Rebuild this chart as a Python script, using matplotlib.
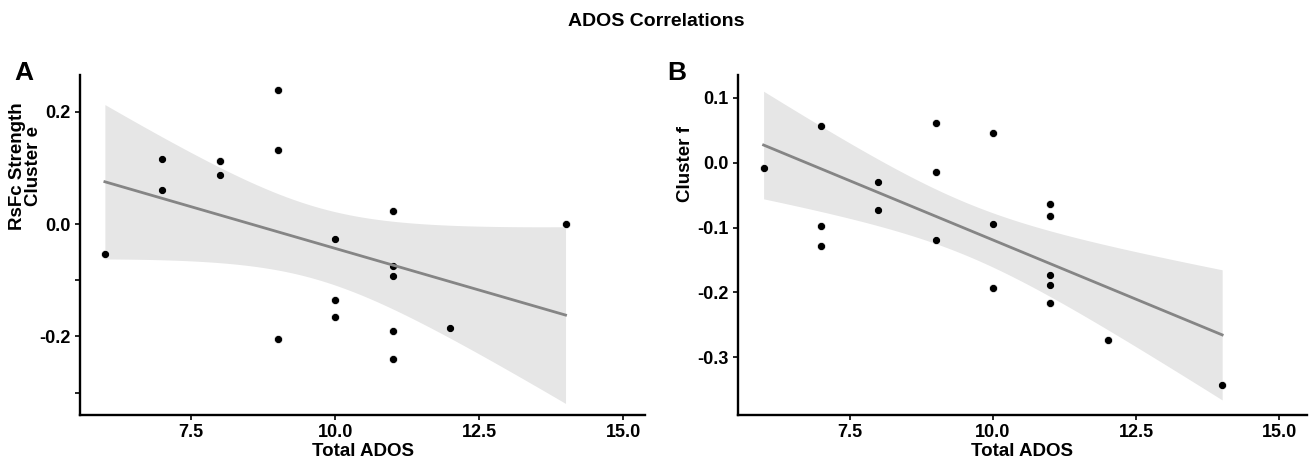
import math
import numpy as np
import matplotlib
matplotlib.use("Agg")
import matplotlib.pyplot as plt

plt.rcParams['font.family'] = ['Liberation Sans', 'DejaVu Sans']
plt.rcParams['axes.unicode_minus'] = False

# ---- data ----
ados_a = [6, 7, 7, 8, 8, 9, 9, 9, 10, 10, 10, 11, 11, 11, 11, 11, 12, 14]
rsfc_e = [-0.054, 0.115, 0.060, 0.112, 0.087, 0.239, 0.131, -0.205,
          -0.027, -0.135, -0.165, 0.024, -0.075, -0.093, -0.190, -0.240,
          -0.185, 0.000]

ados_b = [6, 7, 7, 7, 8, 8, 9, 9, 9, 10, 10, 10, 11, 11, 11, 11, 11, 12, 14]
rsfc_f = [-0.008, 0.057, -0.098, -0.129, -0.030, -0.073, 0.061, -0.015,
          -0.119, 0.046, -0.095, -0.193, -0.064, -0.082, -0.173, -0.188,
          -0.216, -0.273, -0.342]

xticks = [7.5, 10.0, 12.5, 15.0]
xtick_labels = ['7.5', '10.0', '12.5', '15.0']
yticks_a = [-0.3, -0.2, -0.1, 0.0, 0.2]
ytick_labels_a = ['', '-0.2', '', '0.0', '0.2']
yticks_b = [-0.3, -0.2, -0.1, 0.0, 0.1]
ytick_labels_b = ['-0.3', '-0.2', '-0.1', '0.0', '0.1']

title = 'ADOS Correlations'
xlabel = 'Total ADOS'
ylabel_a = 'RsFc Strength\nCluster e'
ylabel_b = 'Cluster f'


def t_quantile(p, df):
    """Student-t quantile via numeric integration + bisection."""
    c = math.gamma((df + 1) / 2) / (math.sqrt(df * math.pi) * math.gamma(df / 2))

    def cdf(q):
        xs = np.linspace(0, q, 4001)
        pdf = c * (1 + xs ** 2 / df) ** (-(df + 1) / 2)
        return 0.5 + np.trapezoid(pdf, xs)

    lo, hi = 0.0, 10.0
    for _ in range(60):
        mid = (lo + hi) / 2
        if cdf(mid) < p:
            lo = mid
        else:
            hi = mid
    return (lo + hi) / 2


def smooth(x, y):
    x = np.asarray(x, float)
    y = np.asarray(y, float)
    n = len(x)
    slope, intercept = np.polyfit(x, y, 1)
    resid = y - (intercept + slope * x)
    s = math.sqrt(np.sum(resid ** 2) / (n - 2))
    mx = x.mean()
    sxx = np.sum((x - mx) ** 2)
    xs = np.linspace(x.min(), x.max(), 80)
    yhat = intercept + slope * xs
    se = s * np.sqrt(1 / n + (xs - mx) ** 2 / sxx)
    t = t_quantile(0.975, n - 2)
    return xs, yhat, yhat - t * se, yhat + t * se


W, H = 1312, 468
fig = plt.figure(figsize=(W / 100, H / 100), dpi=100)


def px_axes(left, right, top, bottom):
    return fig.add_axes([left / W, 1 - bottom / H, (right - left) / W, (bottom - top) / H])


ax_a = px_axes(80, 645, 75, 414.5)
ax_b = px_axes(737.5, 1307, 75, 414.5)

panels = [
    (ax_a, ados_a, rsfc_e, (5.568, 15.38), (-0.3388, 0.2653), yticks_a, ytick_labels_a),
    (ax_b, ados_b, rsfc_f, (5.545, 15.48), (-0.388, 0.135), yticks_b, ytick_labels_b),
]

for ax, x, y, xl, yl, yt, ytl in panels:
    xs, yhat, lo, hi = smooth(x, y)
    ax.fill_between(xs, lo, hi, color='#e6e6e6', linewidth=0, zorder=1)
    ax.scatter(x, y, s=34, color='black', edgecolors='white', linewidths=0.5, zorder=2)
    ax.plot(xs, yhat, color='#858585', linewidth=2.0, zorder=3)
    ax.set_xlim(*xl)
    ax.set_ylim(*yl)
    ax.set_xticks(xticks)
    ax.set_xticklabels(xtick_labels)
    ax.set_yticks(yt)
    ax.set_yticklabels(ytl)
    for side in ('top', 'right'):
        ax.spines[side].set_visible(False)
    for side in ('left', 'bottom'):
        ax.spines[side].set_linewidth(1.7)
        ax.spines[side].set_color('black')
    ax.tick_params(axis='both', length=3.5, width=1.2, color='black',
                   labelsize=13, labelcolor='black', pad=3)
    for lab in ax.get_xticklabels() + ax.get_yticklabels():
        lab.set_fontweight('bold')
    ax.set_xlabel(xlabel, fontsize=13.5, fontweight='bold', labelpad=2)
    ax.set_facecolor('white')

fig.text(0.5, 1 - 22 / H, title, ha='center', va='center', fontsize=14, fontweight='bold')
fig.text(24 / W, 1 - 72.5 / H, 'A', ha='center', va='center', fontsize=19, fontweight='bold')
fig.text(677 / W, 1 - 73 / H, 'B', ha='center', va='center', fontsize=19, fontweight='bold')

fig.text(25.5 / W, 1 - 166 / H, ylabel_a, rotation=90, ha='center', va='center',
         fontsize=13.5, fontweight='bold', linespacing=0.95, multialignment='center')
fig.text(685 / W, 1 - 164 / H, ylabel_b, rotation=90, ha='center', va='center',
         fontsize=13.5, fontweight='bold')

fig.savefig('out.png', dpi=100, facecolor='white')
